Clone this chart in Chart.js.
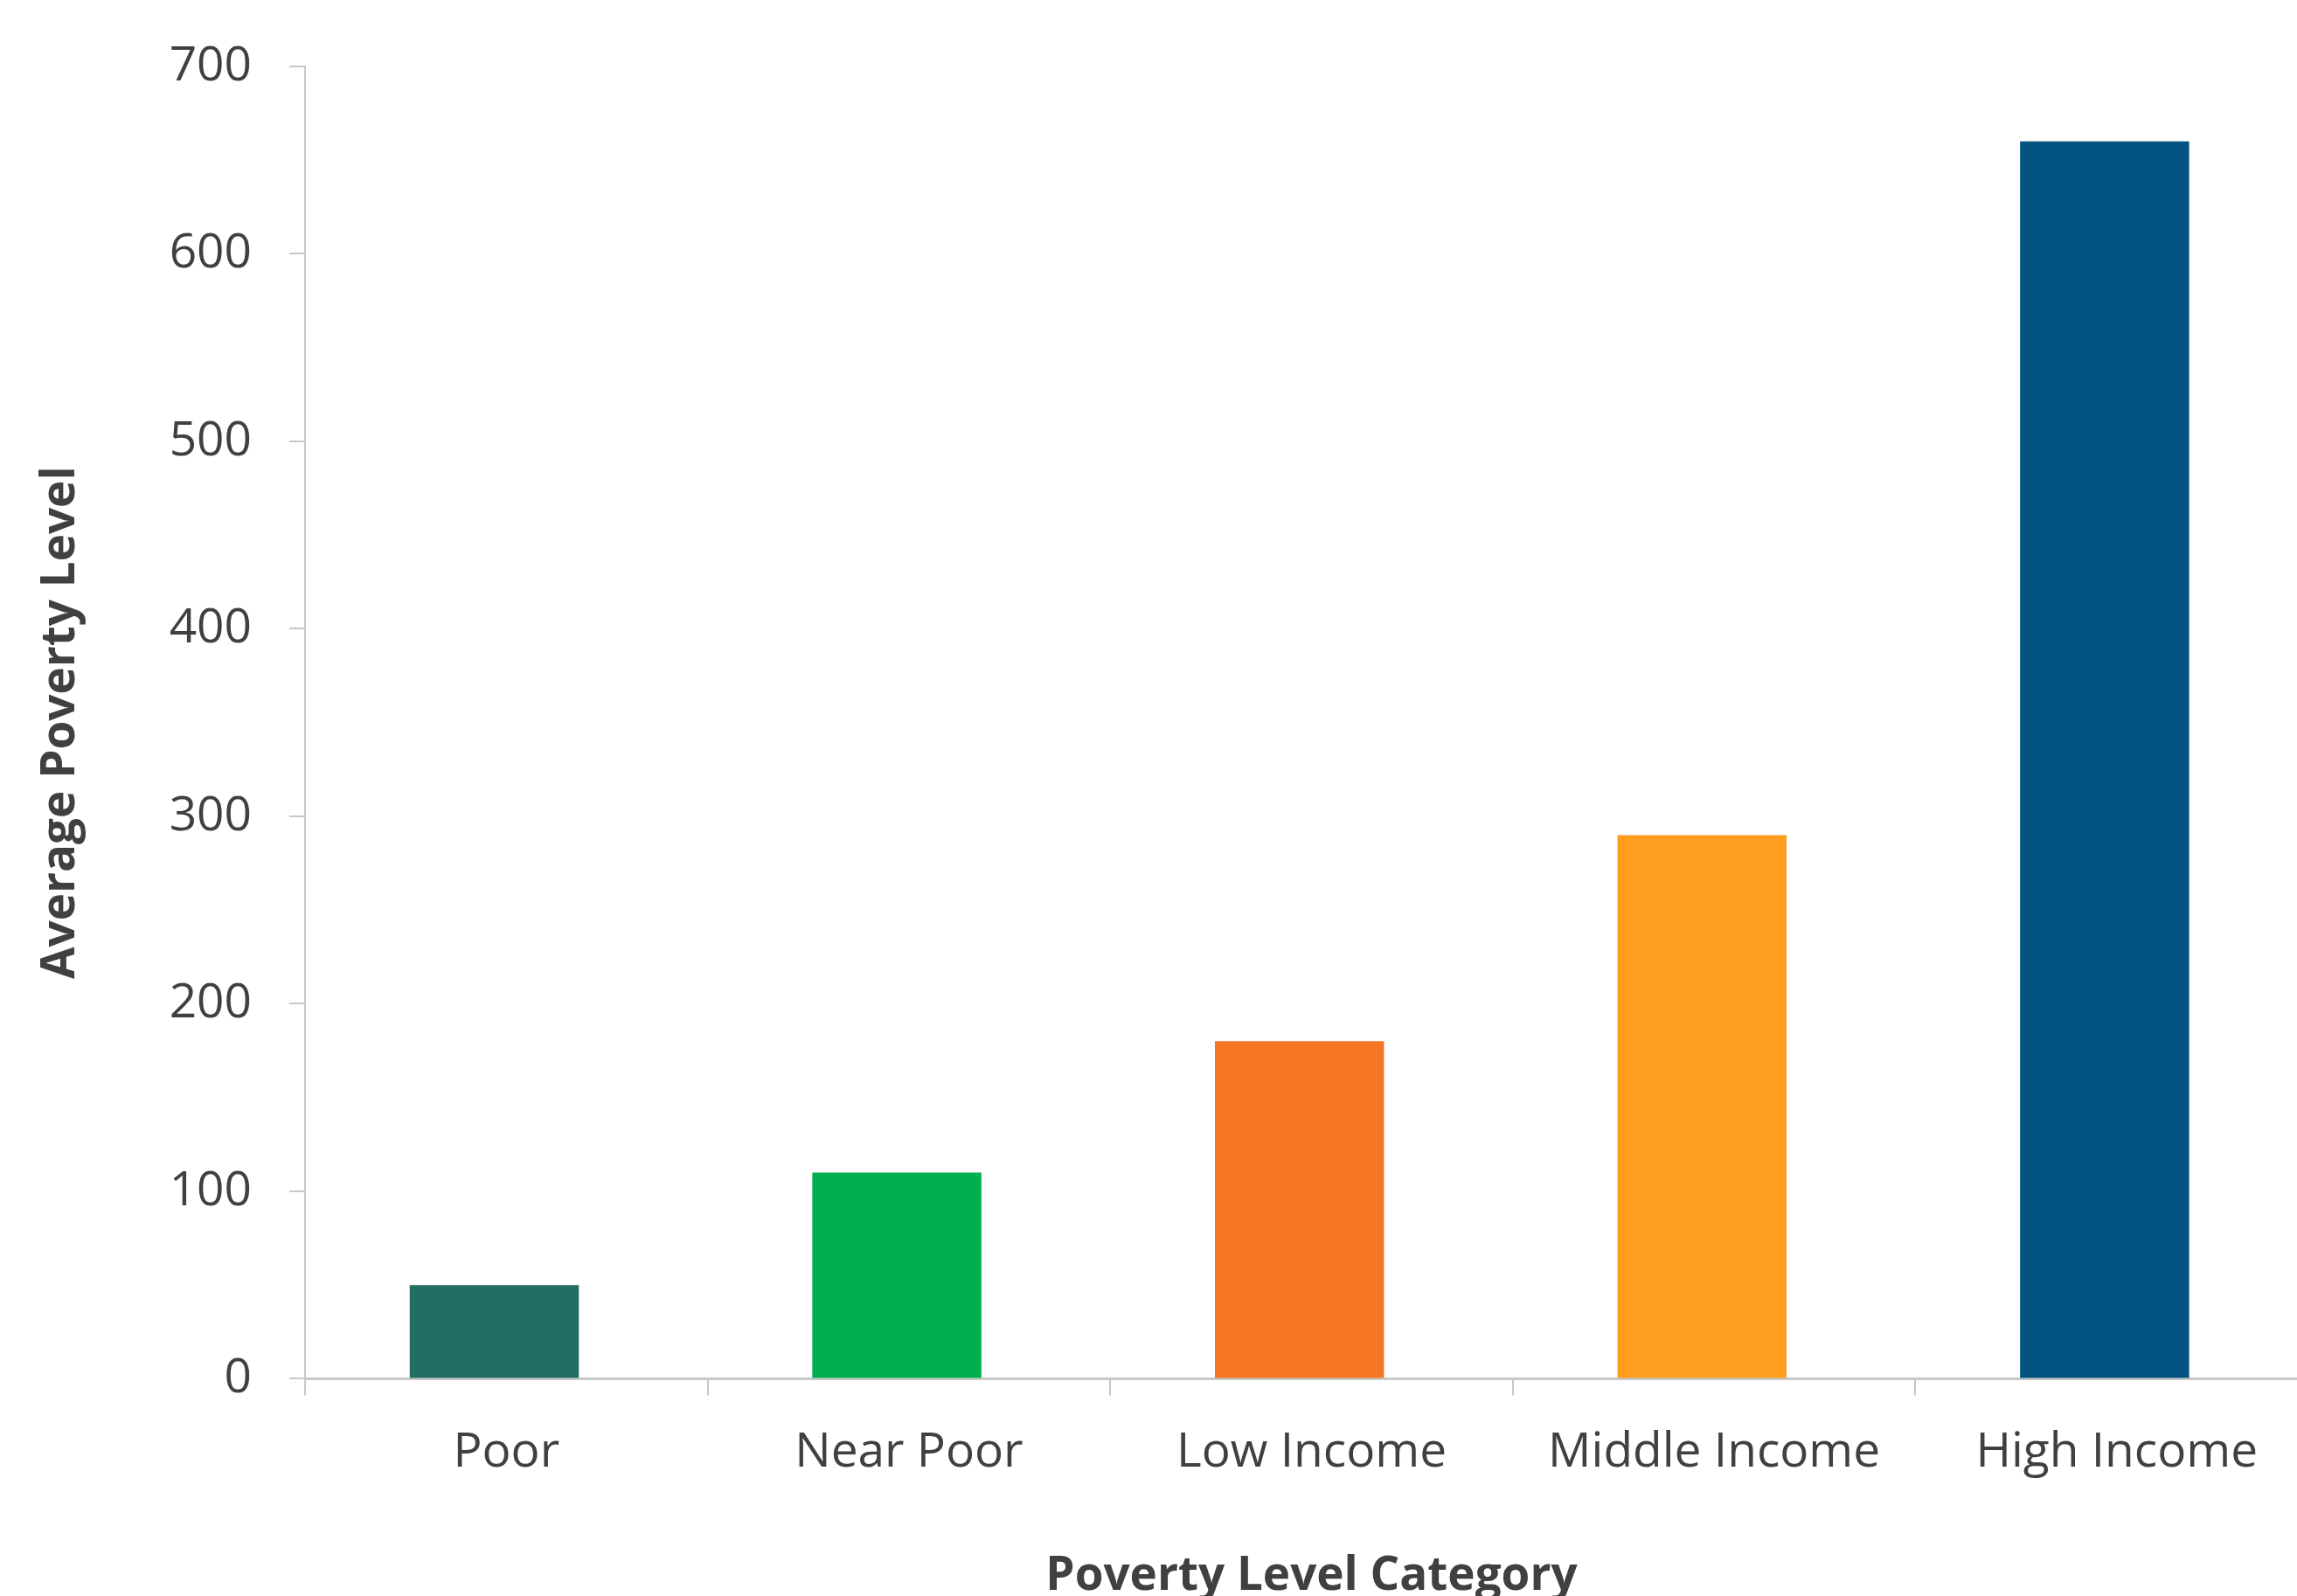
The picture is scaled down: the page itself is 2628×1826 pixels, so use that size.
<!DOCTYPE html>
<html lang="en">
<head>
    <meta charset="UTF-8">
    <title>Average Poverty Level</title>
    <script src="https://cdn.jsdelivr.net/npm/chart.js"></script>
    <style>
        html, body { margin: 0; padding: 0; background: #ffffff; overflow: hidden; }
        #wrap { position: relative; width: 2652px; height: 1836px; }
    </style>
</head>
<body>
    <div id="wrap">
        <canvas id="povertyChart"></canvas>
    </div>

    <script type=text/javascript>
        // data
        var categories = ['Poor', 'Near Poor', 'Low Income', 'Middle Income', 'High Income'];
        var values = [50, 110, 180, 290, 660];
        var barColors = ['#226E62', '#00AF50', '#F47523', '#FF9D1E', '#045481'];
        var yTicks = [0, 100, 200, 300, 400, 500, 600, 700];

        var textColor = '#404040';
        var axisColor = '#C8C8C8';

        // bars sit a little left of the category centre in the original
        var barShift = 0.03;
        var points = values.map(function (v, i) { return { x: i, y: v }; });

        var ctx = document.getElementById('povertyChart').getContext('2d');
        var chart = new Chart(ctx, {
            type: 'bar',
            data: {
                labels: categories,
                datasets: [
                    {
                        label: 'Average Poverty Level',
                        data: points,
                        xAxisID: 'xb',
                        backgroundColor: barColors,
                        borderWidth: 0,
                        categoryPercentage: 1.0,
                        barPercentage: 0.42
                    }
                ]
            },
            options: {
                responsive: true,
                maintainAspectRatio: false,
                animation: false,
                layout: {
                    padding: { top: 74, left: 0, right: 0, bottom: 0 }
                },
                plugins: {
                    legend: { display: false },
                    tooltip: { enabled: false }
                },
                scales: {
                    xb: {
                        type: 'linear',
                        display: false,
                        offset: false,
                        min: -0.5 + barShift,
                        max: categories.length - 0.5 + barShift,
                        // one tick per category so the bar width follows the category width
                        afterBuildTicks: function (scale) {
                            scale.ticks = categories.map(function (c, i) { return { value: i }; });
                        }
                    },
                    x: {
                        type: 'category',
                        offset: true,
                        grid: {
                            display: true,
                            offset: true,
                            drawOnChartArea: false,
                            drawTicks: true,
                            tickLength: 19,
                            color: axisColor,
                            lineWidth: 2
                        },
                        border: { display: true, color: axisColor, width: 3 },
                        ticks: {
                            color: textColor,
                            padding: 33,
                            font: { family: 'Open Sans', size: 55 }
                        },
                        title: {
                            display: true,
                            text: 'Poverty Level Category',
                            color: textColor,
                            padding: { top: 44, bottom: 0 },
                            font: { family: 'Open Sans', size: 53, weight: 'bold' }
                        }
                    },
                    y: {
                        min: 0,
                        max: 700,
                        afterFit: function (scale) { scale.width = 349; },
                        afterBuildTicks: function (scale) {
                            scale.ticks = yTicks.map(function (v) { return { value: v }; });
                        },
                        grid: {
                            display: true,
                            drawOnChartArea: false,
                            drawTicks: true,
                            tickLength: 18,
                            color: axisColor,
                            lineWidth: 2
                        },
                        border: { display: true, color: axisColor, width: 2 },
                        ticks: {
                            color: textColor,
                            padding: 43,
                            font: { family: 'Open Sans', size: 55 }
                        },
                        title: {
                            display: true,
                            text: 'Average Poverty Level',
                            color: textColor,
                            padding: { top: 38, bottom: 0 },
                            font: { family: 'Open Sans', size: 53, weight: 'bold' }
                        }
                    }
                }
            }
        });
    </script>
</body>
</html>
